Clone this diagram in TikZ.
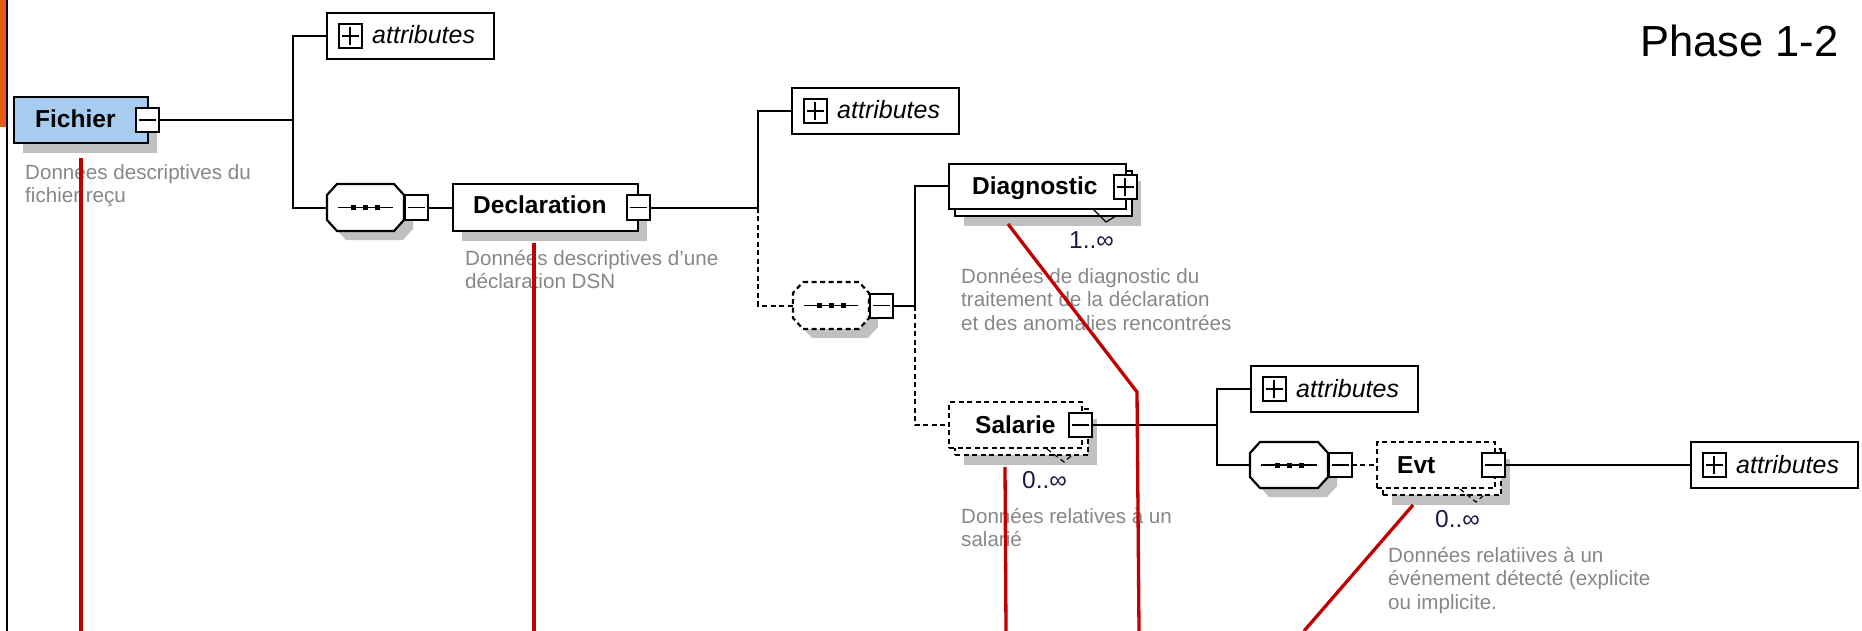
\documentclass[tikz,border=0pt]{standalone}
\usepackage{fontspec}
\setmainfont{Liberation Sans}
\usetikzlibrary{shadows}
\definecolor{fichierblue}{RGB}{168,203,240}
\definecolor{shadowgray}{RGB}{192,192,192}
\definecolor{descgray}{RGB}{135,135,135}
\definecolor{multcol}{RGB}{30,25,70}
\definecolor{redline}{RGB}{192,0,0}
\definecolor{orangebar}{RGB}{228,92,20}

\newcommand\nmfont{\bfseries\fontsize{24.5}{27}\selectfont}
\newcommand\dscfont{\fontsize{20.6}{23.5}\selectfont}
\newcommand\mulfont{\fontsize{24.5}{27}\selectfont}
\newcommand\attfont{\itshape\fontsize{25}{27}\selectfont}

\tikzset{
  ln/.style={line width=2pt, draw=black},
  optl/.style={dash pattern=on 5pt off 3.5pt},
  shd/.style={drop shadow={shadow xshift=9pt, shadow yshift=-10pt, fill=shadowgray, opacity=1}},
  elem/.style={draw, line width=2.2pt, fill=white, inner sep=0pt, outer sep=0pt, anchor=north west},
  seqhold/.style={draw=none, inner sep=0pt, outer sep=0pt, anchor=north west},
  octo/.style n args={3}{insert path={
    ([xshift=10pt+#2,yshift=#3]#1.north west) -- ([xshift=-10pt+#2,yshift=#3]#1.north east) --
    ([xshift=#2,yshift=-11pt+#3]#1.north east) -- ([xshift=#2,yshift=11pt+#3]#1.south east) --
    ([xshift=-10pt+#2,yshift=#3]#1.south east) -- ([xshift=10pt+#2,yshift=#3]#1.south west) --
    ([xshift=#2,yshift=11pt+#3]#1.south west) -- ([xshift=#2,yshift=-11pt+#3]#1.north west) -- cycle}},
  tog/.style={draw, line width=2pt, fill=white, minimum width=23pt, minimum height=24pt, inner sep=0pt, outer sep=0pt,
    path picture={\draw[line width=1.8pt] ([xshift=3pt]path picture bounding box.west) -- ([xshift=-3pt]path picture bounding box.east);}},
  plustog/.style={draw, line width=2pt, fill=white, minimum width=23pt, minimum height=24pt, inner sep=0pt, outer sep=0pt,
    path picture={\draw[line width=1.8pt] ([xshift=3pt]path picture bounding box.west) -- ([xshift=-3pt]path picture bounding box.east)
      ([yshift=-3pt]path picture bounding box.north) -- ([yshift=3pt]path picture bounding box.south);}},
  nm/.style={anchor=base west, inner sep=0pt, font=\nmfont},
  dsc/.style={anchor=base west, inner sep=0pt, align=left, font=\dscfont, text=descgray},
  mul/.style={anchor=base west, inner sep=0pt, font=\mulfont, text=multcol},
  att/.style={anchor=base west, inner sep=0pt, font=\attfont},
  redl/.style={draw=redline, line width=3.3pt},
  notch/.style={draw=black, line width=1.2pt},
  seqdots/.style={line width=1.8pt},
}

\begin{document}
\begin{tikzpicture}[x=1pt,y=-1pt]
\useasboundingbox (0,0) rectangle (1862,631);
\fill[white] (0,0) rectangle (1862,631);
\fill[orangebar] (0,0) rectangle (6,127);
\draw[line width=1.5pt] (7,0) -- (7,631);

% Fichier
\node[elem, shd, fill=fichierblue, minimum width=134pt, minimum height=46pt] (fichier) at (14,97) {};
\node[tog] (fm) at (147,120) {};
\node[nm] (fichiert) at (35,128) {Fichier};
\node[dsc] (fichierd) at (25,202.5) {Données descriptives du\\fichier reçu};

% attributes 1
\node[elem, minimum width=167pt, minimum height=46pt] (attr1) at (327,13) {};
\node[plustog] (a1p) at (350,36) {};
\node[att] (a1t) at (372,44) {attributes};

% sequence 1
\node[seqhold, minimum width=77pt, minimum height=47pt] (seq1) at (327,184) {};
\fill[shadowgray, octo={seq1}{9pt}{-9pt}];
\draw[line width=2.2pt, fill=white, octo={seq1}{0pt}{0pt}];
\draw[seqdots] ([xshift=11pt]seq1.west) -- ([xshift=-11pt]seq1.east);
\foreach \dx in {-12,0,12} \fill ([xshift=\dx pt]seq1.center) +(-2.5,-2.5) rectangle +(2.5,2.5);
\node[tog] (s1m) at (416,207.5) {};

% Declaration
\node[elem, shd, minimum width=185pt, minimum height=47pt] (decl) at (453,184) {};
\node[tog] (dm) at (638,207.5) {};
\node[nm] (declt) at (473,214) {Declaration};
\node[dsc] (decld) at (465,288.5) {Données descriptives d\char"27 une\\déclaration DSN};

% attributes 2
\node[elem, minimum width=167pt, minimum height=46pt] (attr2) at (792,88) {};
\node[plustog] (a2p) at (815,111) {};
\node[att] (a2t) at (837,119) {attributes};

% sequence 2 (optional)
\node[seqhold, minimum width=76pt, minimum height=47pt] (seq2) at (793,282) {};
\fill[shadowgray, octo={seq2}{9pt}{-9pt}];
\draw[line width=2.2pt, fill=white, optl, octo={seq2}{0pt}{0pt}];
\draw[seqdots] ([xshift=11pt]seq2.west) -- ([xshift=-11pt]seq2.east);
\foreach \dx in {-12,0,12} \fill ([xshift=\dx pt]seq2.center) +(-2.5,-2.5) rectangle +(2.5,2.5);
\node[tog] (s2m) at (881,305.5) {};

% Diagnostic
\node[elem, shd, minimum width=177pt, minimum height=45pt] (diagb) at (955,171) {};
\node[elem, minimum width=177pt, minimum height=45pt] (diag) at (949,164) {};
\node[plustog] (dp) at (1125,187) {};
\draw[notch] (1093,209) -- (1106,222) -- (1116,216);
\node[nm] (diagt) at (972,194) {Diagnostic};
\node[mul] (diagm) at (1069,248) {1..∞};
\node[dsc] (diagd) at (961,330) {Données de diagnostic du\\traitement de la déclaration\\et des anomalies rencontrées};

% Salarie
\node[elem, shd, optl, minimum width=133pt, minimum height=46pt] (salb) at (955,409) {};
\node[elem, optl, minimum width=133pt, minimum height=46pt] (sal) at (949,402) {};
\node[tog] (sm) at (1080,425) {};
\draw[notch, optl] (1047,449) -- (1064,462) -- (1071,456);
\node[nm] (salt) at (975,433) {Salarie};
\node[mul] (salm) at (1022,488) {0..∞};
\node[dsc] (sald) at (961,546.5) {Données relatives à un\\salarié};

% attributes 3
\node[elem, minimum width=167pt, minimum height=46pt] (attr3) at (1251,366) {};
\node[plustog] (a3p) at (1274,389) {};
\node[att] (a3t) at (1296,397) {attributes};

% sequence 3
\node[seqhold, minimum width=78pt, minimum height=46pt] (seq3) at (1250,442) {};
\fill[shadowgray, octo={seq3}{9pt}{-9pt}];
\draw[line width=2.2pt, fill=white, octo={seq3}{0pt}{0pt}];
\draw[seqdots] ([xshift=11pt]seq3.west) -- ([xshift=-11pt]seq3.east);
\foreach \dx in {-12,0,12} \fill ([xshift=\dx pt]seq3.center) +(-2.5,-2.5) rectangle +(2.5,2.5);
\node[tog] (s3m) at (1340,465) {};

% Evt
\node[elem, shd, optl, minimum width=118pt, minimum height=46pt] (evtb) at (1383,449) {};
\node[elem, optl, minimum width=118pt, minimum height=46pt] (evt) at (1377,442) {};
\node[tog] (em) at (1493,465) {};
\draw[notch, optl] (1460,489) -- (1476,502) -- (1483,496);
\node[nm] (evtt) at (1397,473) {Evt};
\node[mul] (evtm) at (1435,527) {0..∞};
\node[dsc] (evtd) at (1388,609) {Données relatiives à un\\événement détecté (explicite\\ou implicite.};

% attributes 4
\node[elem, minimum width=167pt, minimum height=46pt] (attr4) at (1691,442) {};
\node[plustog] (a4p) at (1714,465) {};
\node[att] (a4t) at (1736,473) {attributes};

% connectors
\coordinate (j1) at (293,120);
\draw[ln] (fm.east) -- (j1);
\draw[ln] (attr1.west) -| (j1) |- (seq1.west);
\draw[ln] (s1m.east) -- (decl.west);
\coordinate (j2) at (758,207.5);
\draw[ln] (dm.east) -- (j2);
\draw[ln] (attr2.west) -| (j2);
\draw[ln, optl] (j2) |- (seq2.west);
\coordinate (j3) at (915,305.5);
\draw[ln] (s2m.east) -- (j3);
\draw[ln] (diag.west) -| (j3);
\draw[ln, optl] (j3) |- (sal.west);
\coordinate (j4) at (1217,425);
\draw[ln] (sm.east) -- (j4);
\draw[ln] (attr3.west) -| (j4) |- (seq3.west);
\draw[ln, optl] (s3m.east) -- (evt.west);
\draw[ln] (em.east) -- (attr4.west);

% title
\node[anchor=base west, inner sep=0pt, font=\fontsize{43.5}{48}\selectfont] (phase) at (1640,57) {Phase 1-2};

% red lines
\coordinate (r1a) at (81,158);   \coordinate (r1b) at (81,631);
\coordinate (r2a) at (534,243);  \coordinate (r2b) at (534,631);
\coordinate (r3a) at (1008,224); \coordinate (r3k) at (1137,392); \coordinate (r3b) at (1139,631);
\coordinate (r4a) at (1005,467); \coordinate (r4b) at (1006,631);
\coordinate (r5a) at (1413,505); \coordinate (r5b) at (1304,631);
\draw[redl] (r1a) -- (r1b);
\draw[redl] (r2a) -- (r2b);
\draw[redl] (r3a) -- (r3k) -- (r3b);
\draw[redl] (r4a) -- (r4b);
\draw[redl] (r5a) -- (r5b);
\end{tikzpicture}
\end{document}
